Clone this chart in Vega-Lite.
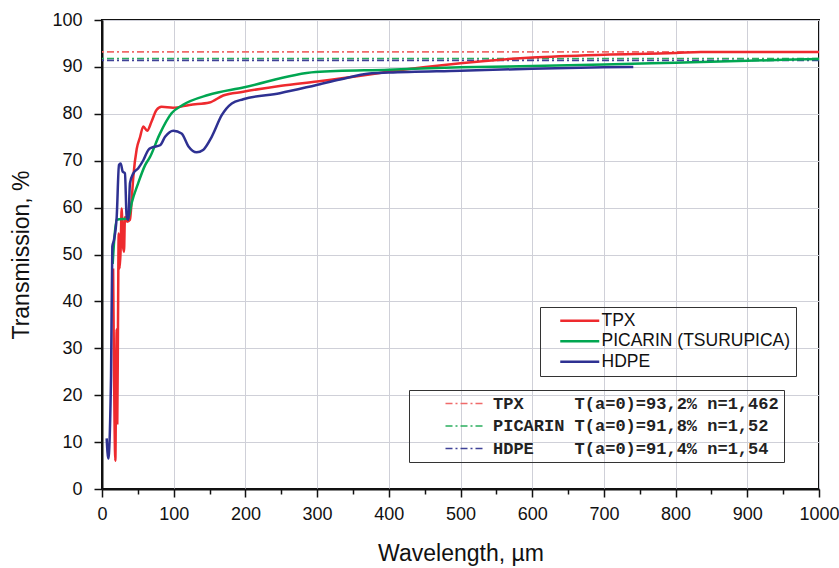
{
  "$schema": "https://vega.github.io/schema/vega-lite/v6.json",
  "width": 717,
  "height": 469,
  "autosize": {"type": "none"},
  "padding": {"left": 102, "top": 20, "right": 20, "bottom": 79},
  "background": "white",
  "config": {
    "font": "Liberation Sans",
    "view": {"stroke": "#111", "strokeWidth": 2},
    "axis": {
      "domainColor": "#111",
      "domainWidth": 2,
      "tickColor": "#111",
      "tickWidth": 1.5,
      "gridColor": "#cfd0d8",
      "gridWidth": 1,
      "labelFont": "Liberation Sans",
      "labelFontSize": 18,
      "labelColor": "#111",
      "labelOverlap": false,
      "labelFlush": false,
      "labelBound": false,
      "titleFont": "Liberation Sans",
      "titleFontSize": 23,
      "titleFontWeight": "normal",
      "titleColor": "#111"
    }
  },
  "datasets": {
    "curves": [
      {"series": "TPX", "wl": 15.5, "T": 47},
      {"series": "TPX", "wl": 16.5, "T": 30},
      {"series": "TPX", "wl": 17.5, "T": 14},
      {"series": "TPX", "wl": 18.6, "T": 6},
      {"series": "TPX", "wl": 19.5, "T": 20},
      {"series": "TPX", "wl": 20.5, "T": 34},
      {"series": "TPX", "wl": 21.3, "T": 14},
      {"series": "TPX", "wl": 22.3, "T": 35},
      {"series": "TPX", "wl": 23.3, "T": 54.5},
      {"series": "TPX", "wl": 24.5, "T": 47},
      {"series": "TPX", "wl": 26, "T": 51},
      {"series": "TPX", "wl": 27.4, "T": 59.8},
      {"series": "TPX", "wl": 29.2, "T": 52},
      {"series": "TPX", "wl": 30.7, "T": 50.6},
      {"series": "TPX", "wl": 32, "T": 58},
      {"series": "TPX", "wl": 35, "T": 57},
      {"series": "TPX", "wl": 39, "T": 57.4},
      {"series": "TPX", "wl": 41.4, "T": 61.6},
      {"series": "TPX", "wl": 43.7, "T": 66.6},
      {"series": "TPX", "wl": 48.4, "T": 72.5},
      {"series": "TPX", "wl": 53, "T": 75},
      {"series": "TPX", "wl": 57.6, "T": 77.3},
      {"series": "TPX", "wl": 63, "T": 76.4},
      {"series": "TPX", "wl": 69, "T": 78.3},
      {"series": "TPX", "wl": 76, "T": 80.8},
      {"series": "TPX", "wl": 83, "T": 81.5},
      {"series": "TPX", "wl": 99, "T": 81.3},
      {"series": "TPX", "wl": 122, "T": 81.9},
      {"series": "TPX", "wl": 150, "T": 82.4},
      {"series": "TPX", "wl": 169, "T": 83.9},
      {"series": "TPX", "wl": 197, "T": 84.7},
      {"series": "TPX", "wl": 250, "T": 86},
      {"series": "TPX", "wl": 300, "T": 86.9},
      {"series": "TPX", "wl": 373, "T": 88.4},
      {"series": "TPX", "wl": 400, "T": 89.0},
      {"series": "TPX", "wl": 500, "T": 90.8},
      {"series": "TPX", "wl": 600, "T": 92.0},
      {"series": "TPX", "wl": 700, "T": 92.6},
      {"series": "TPX", "wl": 800, "T": 92.95},
      {"series": "TPX", "wl": 835, "T": 93.2},
      {"series": "TPX", "wl": 1000, "T": 93.2},
      {"series": "PICARIN (TSURUPICA)", "wl": 14.9, "T": 48},
      {"series": "PICARIN (TSURUPICA)", "wl": 17, "T": 53},
      {"series": "PICARIN (TSURUPICA)", "wl": 20.5, "T": 57.4},
      {"series": "PICARIN (TSURUPICA)", "wl": 36.7, "T": 57.7},
      {"series": "PICARIN (TSURUPICA)", "wl": 41.4, "T": 61},
      {"series": "PICARIN (TSURUPICA)", "wl": 50, "T": 65},
      {"series": "PICARIN (TSURUPICA)", "wl": 60, "T": 69},
      {"series": "PICARIN (TSURUPICA)", "wl": 67, "T": 70.8},
      {"series": "PICARIN (TSURUPICA)", "wl": 80, "T": 75.5},
      {"series": "PICARIN (TSURUPICA)", "wl": 97, "T": 80.1},
      {"series": "PICARIN (TSURUPICA)", "wl": 113, "T": 81.9},
      {"series": "PICARIN (TSURUPICA)", "wl": 148, "T": 84},
      {"series": "PICARIN (TSURUPICA)", "wl": 197, "T": 85.6},
      {"series": "PICARIN (TSURUPICA)", "wl": 298, "T": 88.9},
      {"series": "PICARIN (TSURUPICA)", "wl": 400, "T": 89.4},
      {"series": "PICARIN (TSURUPICA)", "wl": 500, "T": 89.9},
      {"series": "PICARIN (TSURUPICA)", "wl": 600, "T": 90.2},
      {"series": "PICARIN (TSURUPICA)", "wl": 700, "T": 90.5},
      {"series": "PICARIN (TSURUPICA)", "wl": 800, "T": 90.9},
      {"series": "PICARIN (TSURUPICA)", "wl": 900, "T": 91.3},
      {"series": "PICARIN (TSURUPICA)", "wl": 1000, "T": 91.7},
      {"series": "HDPE", "wl": 6.5, "T": 10.8},
      {"series": "HDPE", "wl": 8.8, "T": 6.5},
      {"series": "HDPE", "wl": 12.6, "T": 24},
      {"series": "HDPE", "wl": 14.4, "T": 51.7},
      {"series": "HDPE", "wl": 16.7, "T": 53.1},
      {"series": "HDPE", "wl": 20.5, "T": 58},
      {"series": "HDPE", "wl": 23.7, "T": 69.1},
      {"series": "HDPE", "wl": 26, "T": 69.4},
      {"series": "HDPE", "wl": 28.8, "T": 67.7},
      {"series": "HDPE", "wl": 32, "T": 67.3},
      {"series": "HDPE", "wl": 34.4, "T": 58.1},
      {"series": "HDPE", "wl": 36.7, "T": 57.4},
      {"series": "HDPE", "wl": 39, "T": 65.2},
      {"series": "HDPE", "wl": 43.7, "T": 67.3},
      {"series": "HDPE", "wl": 50.6, "T": 68.4},
      {"series": "HDPE", "wl": 57.6, "T": 70.1},
      {"series": "HDPE", "wl": 64.6, "T": 72.3},
      {"series": "HDPE", "wl": 69.3, "T": 72.8},
      {"series": "HDPE", "wl": 81, "T": 73.3},
      {"series": "HDPE", "wl": 88, "T": 75.1},
      {"series": "HDPE", "wl": 99.5, "T": 76.4},
      {"series": "HDPE", "wl": 111, "T": 75.8},
      {"series": "HDPE", "wl": 120.4, "T": 73.1},
      {"series": "HDPE", "wl": 132, "T": 71.8},
      {"series": "HDPE", "wl": 141, "T": 72.3},
      {"series": "HDPE", "wl": 153, "T": 75.1},
      {"series": "HDPE", "wl": 167, "T": 79.7},
      {"series": "HDPE", "wl": 181, "T": 82.2},
      {"series": "HDPE", "wl": 197, "T": 83.1},
      {"series": "HDPE", "wl": 248, "T": 84.4},
      {"series": "HDPE", "wl": 298, "T": 86.1},
      {"series": "HDPE", "wl": 332, "T": 87.3},
      {"series": "HDPE", "wl": 373, "T": 88.6},
      {"series": "HDPE", "wl": 400, "T": 88.8},
      {"series": "HDPE", "wl": 500, "T": 89.2},
      {"series": "HDPE", "wl": 600, "T": 89.6},
      {"series": "HDPE", "wl": 700, "T": 89.9},
      {"series": "HDPE", "wl": 741, "T": 90.0}
    ],
    "refs": [
      {"ref": "TPX\u00a0\u00a0\u00a0\u00a0\u00a0T(a=0)=93,2%\u00a0n=1,462\u00a0\u00a0", "T": 93.2},
      {"ref": "PICARIN\u00a0T(a=0)=91,8%\u00a0n=1,52\u00a0\u00a0", "T": 91.8},
      {"ref": "HDPE\u00a0\u00a0\u00a0\u00a0T(a=0)=91,4%\u00a0n=1,54\u00a0\u00a0", "T": 91.4}
    ]
  },
  "layer": [
    {
      "data": {"name": "refs"},
      "mark": {"type": "rule", "strokeWidth": 1.6, "strokeDash": [7, 3, 2, 3]},
      "encoding": {
        "y": {"field": "T", "type": "quantitative", "scale": {"domain": [0, 100], "nice": false}},
        "color": {
          "field": "ref",
          "type": "nominal",
          "scale": {
            "domain": ["TPX\u00a0\u00a0\u00a0\u00a0\u00a0T(a=0)=93,2%\u00a0n=1,462\u00a0\u00a0", "PICARIN\u00a0T(a=0)=91,8%\u00a0n=1,52\u00a0\u00a0", "HDPE\u00a0\u00a0\u00a0\u00a0T(a=0)=91,4%\u00a0n=1,54\u00a0\u00a0"],
            "range": ["#f06a6a", "#2aae5e", "#3f4298"]
          },
          "legend": {
            "title": null,
            "orient": "none",
            "legendX": 307,
            "legendY": 370,
            "symbolType": "M4.6,0H12.2",
            "symbolSize": 100,
            "symbolStrokeWidth": 1.6,
            "symbolDash": [7, 3, 2, 3],
            "labelFont": "Liberation Mono",
            "labelFontWeight": "bold",
            "labelFontSize": 17,
            "labelColor": "#222",
            "labelLimit": 0,
            "labelOffset": 62,
            "rowPadding": 4.5,
            "strokeColor": "#333",
            "padding": 5,
            "offset": 0
          }
        }
      }
    },
    {
      "data": {"name": "curves"},
      "mark": {"type": "line", "strokeWidth": 2.5, "interpolate": "monotone"},
      "encoding": {
        "x": {
          "field": "wl",
          "type": "quantitative",
          "scale": {"domain": [0, 1000], "nice": false},
          "axis": {
            "title": "Wavelength, \u00b5m",
            "format": "d",
            "values": [0, 50, 100, 150, 200, 250, 300, 350, 400, 450, 500, 550, 600, 650, 700, 750, 800, 850, 900, 950, 1000],
            "labelExpr": "datum.value % 100 === 0 ? datum.label : ''",
            "tickSize": {"condition": {"test": "datum.value % 100 === 0", "value": 8}, "value": 5},
            "gridOpacity": {"condition": {"test": "datum.value % 100 === 0", "value": 1}, "value": 0},
            "labelPadding": 8,
            "titlePadding": 19
          }
        },
        "y": {
          "field": "T",
          "type": "quantitative",
          "scale": {"domain": [0, 100], "nice": false},
          "axis": {
            "title": "Transmission, %",
            "values": [0, 5, 10, 15, 20, 25, 30, 35, 40, 45, 50, 55, 60, 65, 70, 75, 80, 85, 90, 95, 100],
            "labelExpr": "datum.value % 10 === 0 ? datum.label : ''",
            "tickSize": {"condition": {"test": "datum.value % 10 === 0", "value": 8}, "value": 5},
            "gridOpacity": {"condition": {"test": "datum.value % 10 === 0", "value": 1}, "value": 0},
            "labelPadding": 12,
            "titlePadding": 18
          }
        },
        "color": {
          "field": "series",
          "type": "nominal",
          "scale": {
            "domain": ["TPX", "PICARIN (TSURUPICA)", "HDPE"],
            "range": ["#ee2a2e", "#00a651", "#2e3192"]
          },
          "legend": {
            "title": null,
            "orient": "none",
            "legendX": 438,
            "legendY": 287,
            "symbolType": "M1.3,0H9.1",
            "symbolSize": 100,
            "symbolStrokeWidth": 2.5,
            "labelFont": "Liberation Sans",
            "labelFontSize": 17.5,
            "labelColor": "#111",
            "labelLimit": 0,
            "labelOffset": 39,
            "rowPadding": 1.5,
            "strokeColor": "#333",
            "padding": 5,
            "offset": 0
          }
        }
      }
    }
  ],
  "resolve": {"scale": {"color": "independent"}}
}
